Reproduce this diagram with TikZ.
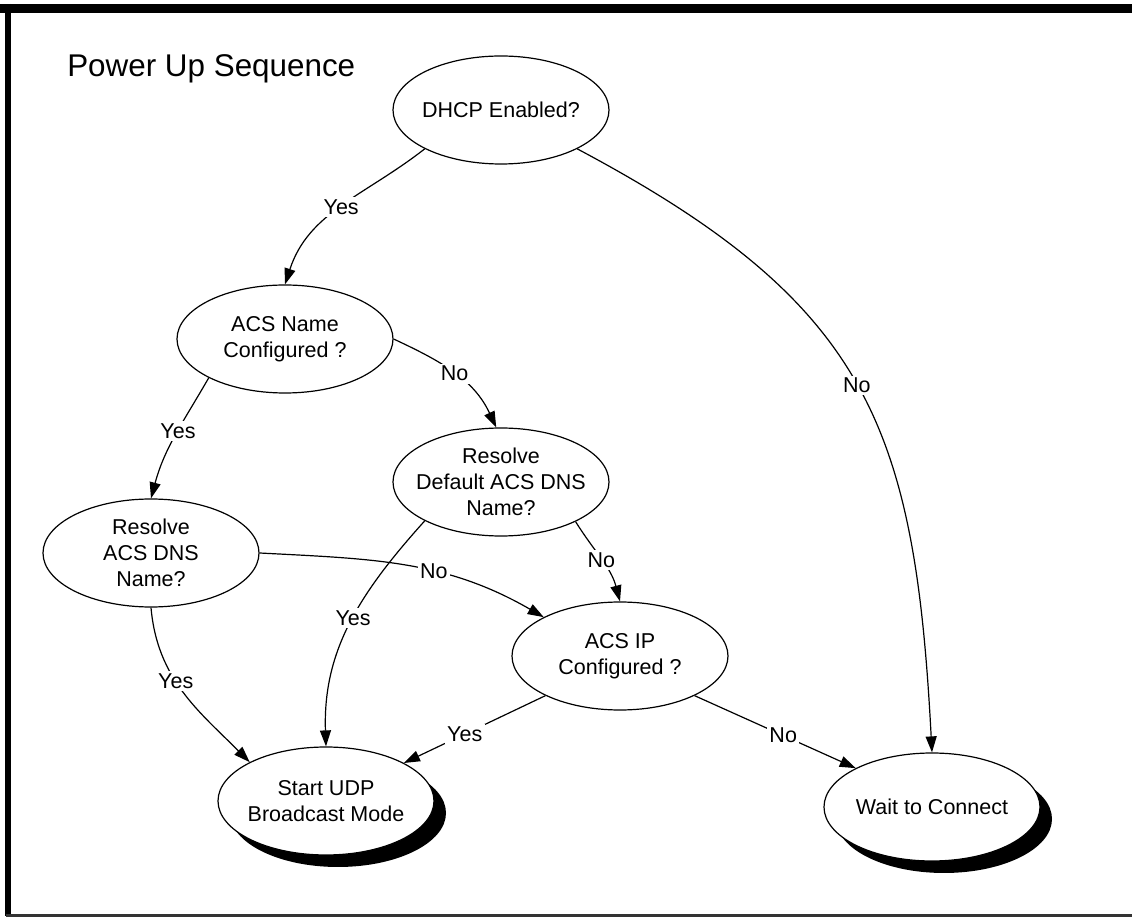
\documentclass[tikz,border=0pt]{standalone}
\usepackage{fontspec}
\setmainfont{Liberation Sans}
\usetikzlibrary{shapes.geometric,shadows,arrows.meta}

\begin{document}
\begin{tikzpicture}[x=0.5pt, y=0.5pt, line width=0.6pt, >={Triangle[length=8pt,width=5.5pt]},
    main/.style = {draw, ellipse, fill=white, minimum width=108pt, minimum height=54pt, inner sep=-4.5pt, align=center, font=\fontsize{10.75}{12.9}\selectfont},
    term/.style = {main, drop shadow={shadow xshift=6pt, shadow yshift=-6pt, fill=black, opacity=1}},
    lbl/.style = {fill=white, inner sep=1.2pt, font=\fontsize{10.75}{12.9}\selectfont}]
    \useasboundingbox (0,0) rectangle (1132,-919);
    \draw[line width=4.5pt] (0,-8.5) -- (1132,-8.5);
    \draw[line width=3pt] (8,-4) -- (8,-916);
    \draw[line width=1.5pt, black!80] (6,-915.5) -- (1132,-915.5);

    \node[anchor=base west, font=\fontsize{15.7}{18}\selectfont] (title) at (60,-77) {Power Up Sequence};
    \node[main] (dhcp) at (501,-110) {DHCP Enabled?};
    \node[main] (acsname) at (285,-339) {ACS Name\\Configured ?};
    \node[main] (defdns) at (501,-482) {Resolve\\Default ACS DNS\\Name?};
    \node[main] (acsdns) at (151,-553) {Resolve\\ACS DNS\\Name?};
    \node[main] (acsip) at (620,-656) {ACS IP\\Configured ?};
    \node[term] (udp) at (326,-801) {Start UDP\\Broadcast Mode};
    \node[term] (wait) at (932,-807) {Wait to Connect};

    \draw[->] (dhcp.207) to[out=218, in=72] node[lbl, pos=0.5] {Yes} (acsname.north);
    \draw[->] (dhcp.333) to[out=-28, in=93, looseness=1.2] node[lbl, pos=0.5] {No} (wait.north);
    \draw[->] (acsname.207) to[out=240, in=75] node[lbl, pos=0.45] {Yes} (acsdns.north);
    \draw[->] (acsname.east) to[out=-25, in=115] node[lbl, pos=0.5] {No} (defdns.95);
    \draw[->] (acsdns.south) to[out=275, in=135] node[lbl, pos=0.42] {Yes} (udp.153);
    \draw[->] (acsdns.east) to[out=-3, in=150] node[lbl, pos=0.6] {No} (acsip.153);
    \draw[->] (defdns.207) to[out=228, in=92] node[lbl, pos=0.47] {Yes} (udp.north);
    \draw[->] (defdns.332) to[out=-58, in=105] node[lbl, pos=0.5] {No} (acsip.north);
    \draw[->] (acsip.208) -- node[lbl, pos=0.57] {Yes} (udp.26);
    \draw[->] (acsip.332) -- node[lbl, pos=0.55] {No} (wait.153);
\end{tikzpicture}
\end{document}
